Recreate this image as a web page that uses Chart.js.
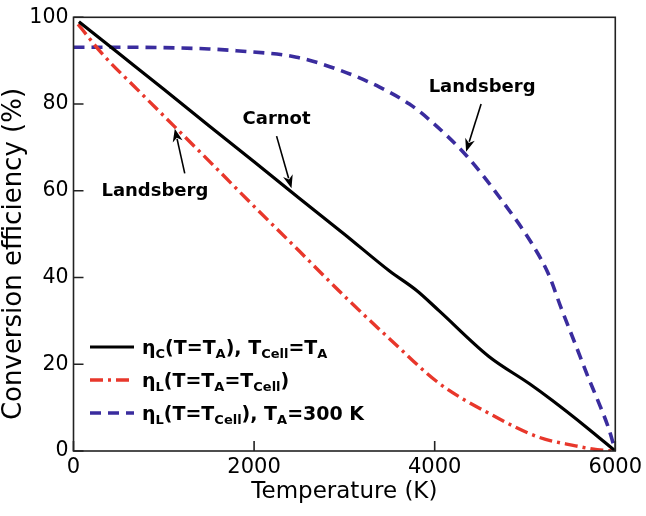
<!DOCTYPE html>
<html>
<head>
<meta charset="utf-8">
<script src="https://cdn.jsdelivr.net/npm/chart.js@4/dist/chart.umd.min.js"></script>
<style>
  html, body { margin: 0; padding: 0; background: #fff; }
  #grafico { display: block; }
</style>
</head>
<body>
<canvas id="grafico" width="646" height="516"></canvas>
<script>
// valores (T em K, eficiencia em %)
const carnotTemp = [60, 500, 1000, 1500, 2000, 2500, 3000, 3500, 3800, 4050, 4600, 5050, 5300, 5680, 6000];
const carnotEff  = [99, 91.7, 83.4, 75, 66.7, 58.3, 50, 41.5, 37, 32.3, 21.8, 15.5, 11.7, 5.5, 0];

const landsbergTemp = [50, 330, 700, 1100, 1500, 2000, 2500, 3030, 3520, 4050, 4600, 5150, 5560, 5800, 6000];
const landsbergEff  = [98.4, 91.3, 83.5, 75.2, 66.9, 56.4, 46.1, 35.1, 25.5, 15.6, 8.7, 3.2, 1.2, 0.3, 0];

const celulaTemp = [0, 500, 1000, 1500, 1800, 2470, 2950, 3390, 3720, 3940, 4360, 4750, 5080, 5260, 5400, 5560, 5700, 5800, 5930, 6000];
const celulaEff  = [93.1, 93.1, 93.0, 92.7, 92.3, 90.8, 87.8, 83.9, 80.0, 76.4, 67.9, 57.6, 47.7, 40.8, 33.0, 24.5, 17.0, 12.0, 5.0, 0];

const xTicks = [0, 2000, 4000, 6000];
const yTicks = [0, 20, 40, 60, 80, 100];
const tituloX = "Temperature (K)";
const tituloY = "Conversion efficiency (%)";

// textos da legenda, com subscritos
const legendaTextos = [
  [["η"], ["C", 1], ["(T=T"], ["A", 1], ["), T"], ["Cell", 1], ["=T"], ["A", 1]],
  [["η"], ["L", 1], ["(T=T"], ["A", 1], ["=T"], ["Cell", 1], [")"]],
  [["η"], ["L", 1], ["(T=T"], ["Cell", 1], ["), T"], ["A", 1], ["=300 K"]]
];

// rotulos com seta: texto, centro do texto, inicio e ponta da seta (coordenadas dos dados)
const rotulos = [
  { texto: "Carnot",    tx: 2249, ty: 76.4, de: [2249, 72.6], ate: [2414, 60.6] },
  { texto: "Landsberg", tx: 901,  ty: 59.9, de: [1232, 64.0], ate: [1122, 74.3] },
  { texto: "Landsberg", tx: 4525, ty: 83.9, de: [4514, 80.0], ate: [4348, 69.0] }
];

const cores = { carnot: "#000000", landsberg: "#e8372b", celula: "#3a2c9e" };
const tracos = { carnot: [], landsberg: [13, 5, 3, 5], celula: [11, 7] };
const fonte = "DejaVu Sans";

function pontos(xs, ys) {
  return xs.map((x, i) => ({ x: x, y: ys[i] }));
}

const moldura = {
  id: "moldura",
  afterDatasetsDraw(chart) {
    const { ctx, chartArea: a, scales: { x, y } } = chart;
    ctx.save();
    ctx.strokeStyle = "#222";
    ctx.lineWidth = 1.6;
    ctx.strokeRect(a.left, a.top, a.right - a.left, a.bottom - a.top);
    ctx.beginPath();
    xTicks.forEach(v => {
      const px = x.getPixelForValue(v);
      ctx.moveTo(px, a.bottom); ctx.lineTo(px, a.bottom - 10);
    });
    yTicks.forEach(v => {
      const py = y.getPixelForValue(v);
      ctx.moveTo(a.left, py); ctx.lineTo(a.left + 10, py);
    });
    ctx.stroke();

    // titulo do eixo y, um pouco abaixo do centro como no original
    ctx.fillStyle = "#000";
    ctx.font = "26px '" + fonte + "'";
    ctx.textAlign = "center";
    ctx.textBaseline = "middle";
    ctx.translate(14, 254);
    ctx.rotate(-Math.PI / 2);
    ctx.fillText(tituloY, 0, 0);
    ctx.restore();
  }
};

function seta(ctx, x0, y0, x1, y1) {
  const ang = Math.atan2(y1 - y0, x1 - x0);
  const L = 13, W = 5;
  ctx.beginPath();
  ctx.moveTo(x0, y0);
  ctx.lineTo(x1 - Math.cos(ang) * L * 0.8, y1 - Math.sin(ang) * L * 0.8);
  ctx.stroke();
  ctx.beginPath();
  ctx.moveTo(x1, y1);
  ctx.lineTo(x1 - Math.cos(ang) * L - Math.sin(ang) * W, y1 - Math.sin(ang) * L + Math.cos(ang) * W);
  ctx.lineTo(x1 - Math.cos(ang) * L * 0.7, y1 - Math.sin(ang) * L * 0.7);
  ctx.lineTo(x1 - Math.cos(ang) * L + Math.sin(ang) * W, y1 - Math.sin(ang) * L - Math.cos(ang) * W);
  ctx.closePath();
  ctx.fill();
}

const anotacoes = {
  id: "anotacoes",
  afterDraw(chart) {
    const { ctx, scales: { x, y } } = chart;
    ctx.save();
    ctx.fillStyle = "#000";
    ctx.strokeStyle = "#000";
    ctx.lineWidth = 1.6;
    ctx.font = "bold 18px '" + fonte + "'";
    ctx.textAlign = "center";
    ctx.textBaseline = "middle";
    rotulos.forEach(r => {
      ctx.fillText(r.texto, x.getPixelForValue(r.tx), y.getPixelForValue(r.ty));
      seta(ctx, x.getPixelForValue(r.de[0]), y.getPixelForValue(r.de[1]),
        x.getPixelForValue(r.ate[0]), y.getPixelForValue(r.ate[1]));
    });
    ctx.restore();
  }
};

const legenda = {
  id: "legenda",
  afterDraw(chart) {
    const ctx = chart.ctx;
    const estilos = chart.data.datasets;
    ctx.save();
    ctx.textBaseline = "alphabetic";
    ctx.textAlign = "left";
    legendaTextos.forEach((partes, i) => {
      const yl = 347 + i * 33;
      const ds = estilos[i];
      ctx.strokeStyle = ds.borderColor;
      ctx.lineWidth = ds.borderWidth;
      ctx.setLineDash(ds.borderDash || []);
      ctx.beginPath();
      ctx.moveTo(90, yl); ctx.lineTo(134, yl);
      ctx.stroke();
      ctx.setLineDash([]);
      ctx.fillStyle = "#000";
      let xl = 142;
      partes.forEach(([t, sub]) => {
        ctx.font = sub ? "bold 13px '" + fonte + "'" : "bold 19px '" + fonte + "'";
        const yb = sub ? yl + 11 : yl + 7;
        ctx.fillText(t, xl, yb);
        xl += ctx.measureText(t).width;
      });
    });
    ctx.restore();
  }
};

const ctx = document.getElementById("grafico").getContext("2d");
new Chart(ctx, {
  type: "line",
  data: {
    datasets: [
      { data: pontos(carnotTemp, carnotEff), borderColor: cores.carnot, borderWidth: 3.2, borderDash: tracos.carnot },
      { data: pontos(landsbergTemp, landsbergEff), borderColor: cores.landsberg, borderWidth: 3.4, borderDash: tracos.landsberg },
      { data: pontos(celulaTemp, celulaEff), borderColor: cores.celula, borderWidth: 3.6, borderDash: tracos.celula }
    ]
  },
  options: {
    responsive: false,
    animation: false,
    devicePixelRatio: 1,
    layout: { padding: { top: 15, right: 29, left: 0, bottom: 10 } },
    elements: { point: { radius: 0 }, line: { cubicInterpolationMode: "monotone", fill: false } },
    plugins: { legend: { display: false }, tooltip: { enabled: false } },
    scales: {
      x: {
        type: "linear", min: 0, max: 6000,
        afterBuildTicks: s => { s.ticks = xTicks.map(v => ({ value: v })); },
        afterFit: s => { s.height = 55; },
        ticks: { color: "#000", font: { family: fonte, size: 21 }, padding: 4, maxRotation: 0, callback: v => String(v) },
        grid: { display: false, drawTicks: false },
        border: { display: false },
        title: { display: true, text: tituloX, color: "#000", font: { family: fonte, size: 23 }, padding: { top: 0, bottom: 0 } }
      },
      y: {
        min: 0, max: 100,
        afterBuildTicks: s => { s.ticks = yTicks.map(v => ({ value: v })); },
        afterFit: s => { s.width = 73.5; },
        ticks: { color: "#000", font: { family: fonte, size: 20.5 }, padding: 5 },
        grid: { display: false, drawTicks: false },
        border: { display: false }
      }
    }
  },
  plugins: [moldura, anotacoes, legenda]
});
</script>
</body>
</html>
